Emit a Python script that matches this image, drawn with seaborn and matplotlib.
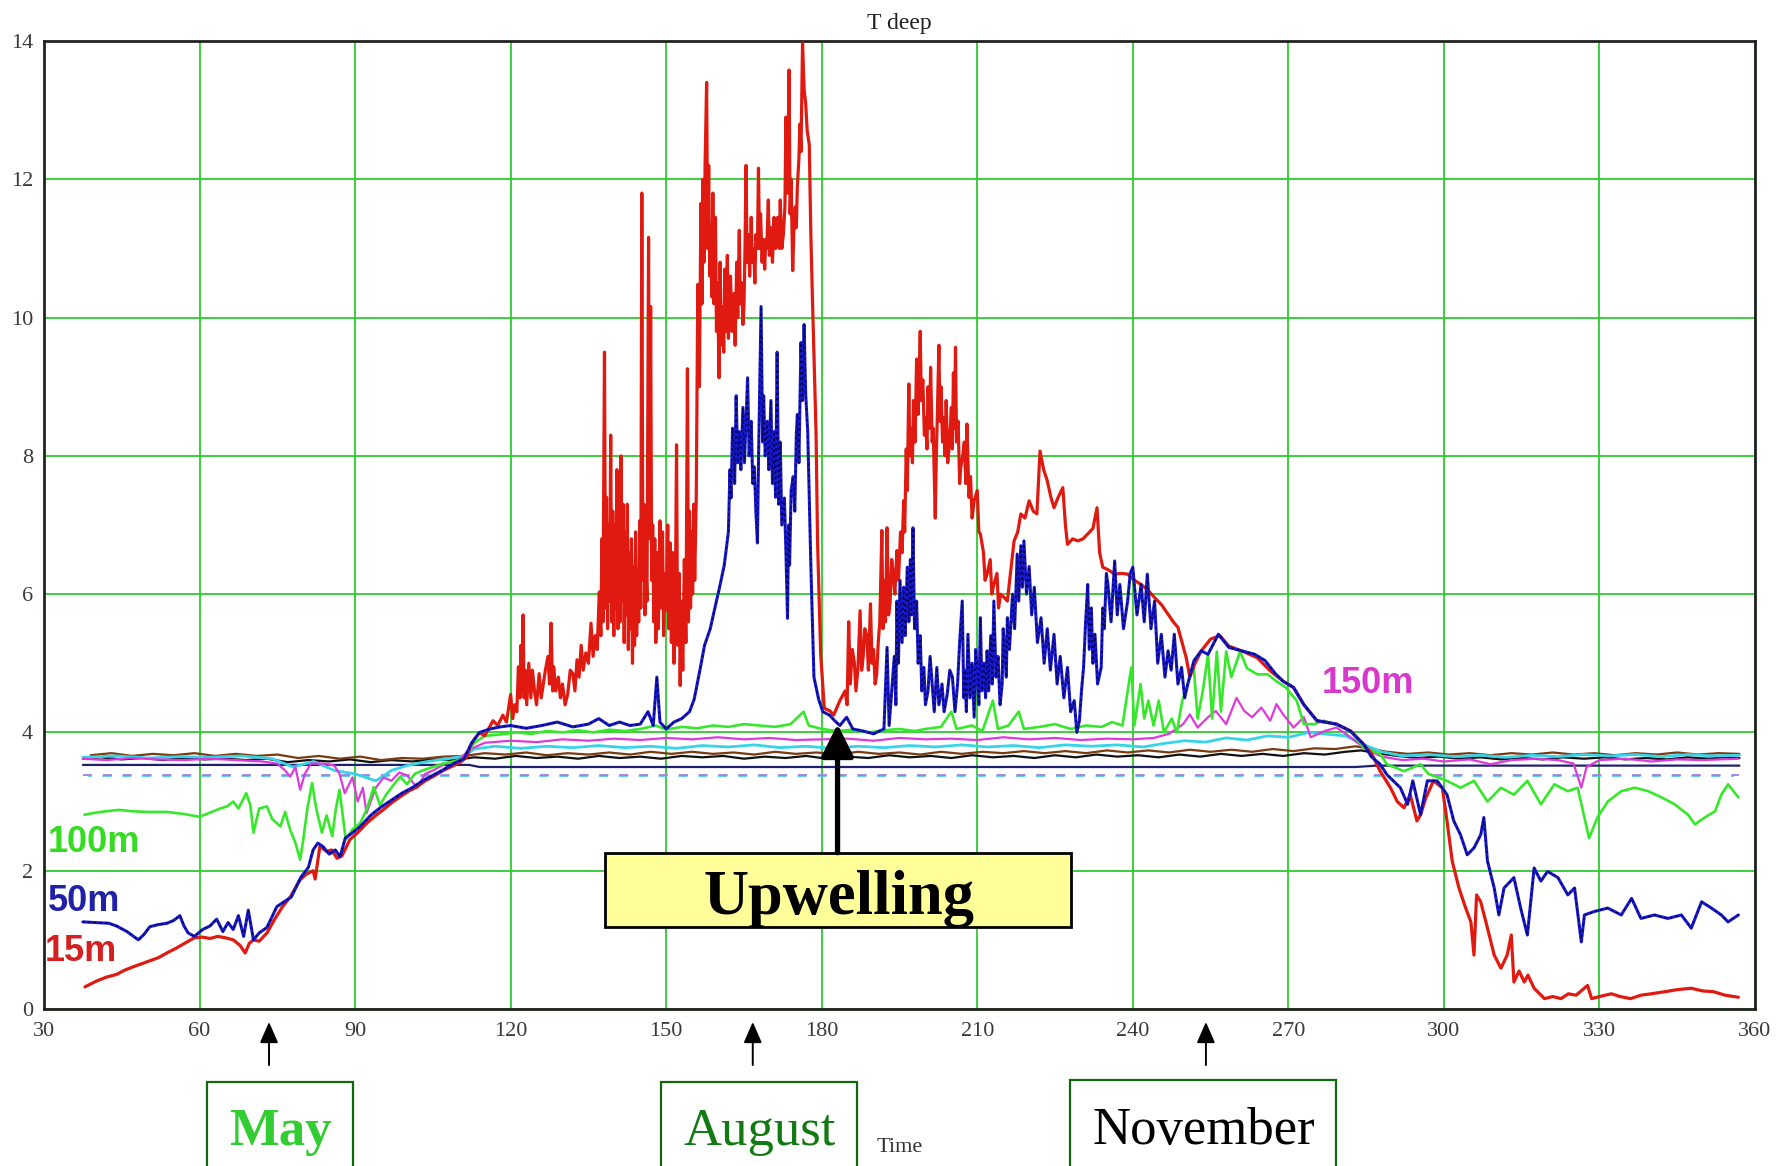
import matplotlib
matplotlib.use("Agg")
import matplotlib.pyplot as plt
import pandas as pd
import seaborn as sns
from matplotlib.patches import Rectangle

# ---------------------------------------------------------------------------
# Temperature records (day of year, degC) for each mooring depth
# ---------------------------------------------------------------------------
T15 = [
    (37.9, 0.32), (40, 0.40), (42, 0.46), (44, 0.50), (45.5, 0.56), (47.2, 0.61), (49, 0.66),
    (50.5, 0.70), (52, 0.74), (53.7, 0.81), (55.5, 0.88), (57.6, 0.97), (59, 1.03), (60.5, 1.04),
    (62, 1.02), (63.5, 1.05), (65, 1.03), (66.5, 1.00), (67.8, 0.92), (68.8, 0.81), (69.6, 0.95),
    (70.4, 1.00), (71.5, 0.98), (73, 1.10), (74.5, 1.30), (76, 1.48), (77.5, 1.62), (79.4, 1.87),
    (80.6, 1.95), (81.9, 2.00), (82.3, 1.88), (83.2, 2.35), (84.5, 2.28), (85.5, 2.30), (86.5, 2.18),
    (87.5, 2.22), (89, 2.45), (90.5, 2.55), (92.3, 2.69), (94, 2.80), (95.4, 2.88), (97, 2.98),
    (98.7, 3.07), (100.3, 3.15), (101.9, 3.21), (103.5, 3.30), (105, 3.36), (107, 3.45), (109, 3.52),
    (110.5, 3.58), (111.6, 3.65), (112.3, 3.82), (113, 3.90), (114, 4.00), (115, 3.95), (116.6, 4.17),
    (117.5, 4.10), (118.5, 4.25), (119.2, 4.15),
    (120, 4.55), (120.4, 4.2), (120.8, 4.40), (121.2, 4.3), (121.5, 4.95), (121.8, 4.5), (122, 5.26),
    (122.2, 4.6), (122.4, 5.70), (122.6, 4.5), (122.8, 4.90), (123.1, 4.4), (123.5, 5.00),
    (123.9, 4.5), (124.2, 4.9), (124.6, 4.60), (125.0, 4.4), (125.5, 4.85), (125.9, 4.5),
    (126.3, 4.70), (126.7, 4.9), (127.2, 5.10), (127.5, 4.7), (127.8, 5.58), (128.1, 4.6),
    (128.3, 4.95), (128.7, 4.6), (129.2, 4.80), (129.6, 4.5), (130.0, 4.70), (130.5, 4.4),
    (131, 4.55), (131.5, 4.9), (132, 4.85), (132.4, 4.6), (132.8, 5.05), (133.2, 4.8), (133.6, 5.26),
    (134.0, 4.9), (134.5, 5.15), (135.0, 5.0), (135.5, 5.58), (135.9, 5.1), (136.3, 5.40),
    (136.7, 5.2),
    (137.1, 6.03), (137.4, 5.4), (137.6, 6.8), (137.8, 5.6), (138.1, 9.5), (138.3, 5.8), (138.5, 7.4),
    (138.7, 5.5), (138.9, 7.0), (139.1, 5.9), (139.3, 8.3), (139.5, 5.6), (139.7, 7.2), (139.9, 5.4),
    (140.1, 7.0), (140.3, 5.8), (140.5, 7.8), (140.7, 5.5), (140.9, 6.8), (141.1, 5.6), (141.3, 8.0),
    (141.5, 5.9), (141.7, 7.3), (141.9, 5.3), (142.1, 6.9), (142.3, 5.7), (142.5, 7.3), (142.7, 5.2),
    (142.9, 6.6), (143.1, 5.5), (143.3, 6.8), (143.5, 5.0), (143.7, 6.4), (143.9, 5.26), (144.1, 6.9),
    (144.3, 5.4), (144.5, 6.3), (144.7, 5.6), (144.9, 7.06), (145.1, 5.8), (145.3, 11.8),
    (145.5, 6.2), (145.7, 7.3), (145.9, 5.7), (146.1, 6.4), (146.3, 5.9), (146.6, 11.16),
    (146.8, 6.8), (147.0, 10.16), (147.2, 6.2), (147.4, 7.0), (147.6, 5.6), (147.8, 6.8),
    (148.0, 5.3), (148.3, 6.6), (148.5, 5.5), (148.8, 7.06), (149.0, 5.8), (149.3, 6.9),
    (149.5, 5.4), (149.8, 6.3), (150.0, 5.77), (150.3, 7.0), (150.5, 5.5), (150.8, 6.74),
    (151.0, 5.3), (151.3, 6.6), (151.5, 5.0), (151.8, 6.2), (152.0, 8.16), (152.2, 5.26),
    (152.5, 6.3), (152.7, 4.68), (152.9, 5.9), (153.2, 4.9), (153.5, 6.5), (153.8, 5.3),
    (154.1, 9.26), (154.3, 5.6), (154.5, 7.2), (154.7, 5.8), (154.9, 6.9), (155.1, 6.0),
    (155.3, 7.3), (155.5, 6.2), (155.8, 7.4), (156.1, 10.48),
    (156.4, 9.0), (156.7, 11.65), (156.9, 10.2), (157.1, 12.0), (157.3, 10.8), (157.5, 12.2),
    (157.8, 13.4), (158.0, 11.0), (158.2, 12.2), (158.4, 10.6), (158.6, 11.26), (158.8, 10.3),
    (159.0, 11.8), (159.2, 10.2), (159.5, 11.45), (159.7, 9.8), (159.9, 10.5), (160.2, 9.13),
    (160.4, 10.8), (160.6, 9.6), (160.9, 10.16), (161.1, 9.5), (161.3, 10.7), (161.5, 9.8),
    (161.8, 10.9), (162.0, 9.7), (162.4, 10.6), (162.7, 9.8), (163.1, 10.35), (163.3, 9.6),
    (163.6, 10.8), (163.8, 10.0), (164.1, 11.26), (164.3, 10.2), (164.6, 10.5), (164.8, 9.9),
    (165.0, 10.16), (165.2, 11.0), (165.4, 12.2), (165.6, 10.8), (165.9, 11.2), (166.1, 10.6),
    (166.4, 11.45), (166.6, 10.8), (166.9, 11.0), (167.1, 10.5), (167.3, 11.2), (167.6, 11.0),
    (167.8, 12.16), (168.0, 11.0), (168.2, 11.5), (168.5, 10.8), (168.7, 11.13), (169.0, 10.7),
    (169.2, 11.13), (169.4, 11.0), (169.7, 11.7), (169.9, 10.9), (170.2, 11.3), (170.5, 10.8),
    (170.8, 11.45), (171.1, 11.0), (171.5, 11.45), (171.8, 11.0), (172.0, 11.7), (172.3, 11.0),
    (172.6, 11.2), (172.9, 11.6), (173.1, 12.9), (173.4, 11.8), (173.7, 13.58), (173.9, 11.5),
    (174.1, 12.0), (174.4, 10.68), (174.6, 11.2), (174.9, 11.6), (175.1, 11.3), (175.3, 11.9),
    (175.6, 12.3), (175.8, 12.8), (176.0, 12.4), (176.3, 13.97), (176.6, 13.3), (176.9, 13.1),
    (177.2, 12.7), (177.6, 12.5), (177.9, 11.2), (178.2, 10.3), (178.9, 8.35), (179.2, 6.74),
    (179.8, 5.13), (180.5, 4.35), (181.6, 4.31), (182.3, 4.25), (183.5, 4.46),
    (184.5, 4.6), (184.9, 4.4), (185.2, 5.6), (185.5, 4.7), (185.9, 5.2), (186.3, 5.0), (186.6, 4.6),
    (187.0, 4.94), (187.4, 5.76), (187.7, 4.9), (188.0, 5.1), (188.3, 5.5), (188.7, 5.4),
    (189.0, 4.9), (189.4, 5.86), (189.7, 5.0), (190.0, 5.2), (190.3, 4.7), (190.6, 4.84),
    (190.9, 5.3), (191.2, 5.6), (191.6, 6.92), (191.8, 5.5), (192.1, 6.2), (192.3, 5.6),
    (192.6, 6.96), (192.9, 5.7), (193.2, 5.9), (193.5, 6.5), (193.8, 6.3), (194.1, 6.0),
    (194.5, 6.63), (194.8, 6.2), (195.2, 6.9), (195.5, 6.6), (195.8, 7.35), (196.0, 6.9),
    (196.3, 8.1), (196.5, 7.5), (196.8, 9.04), (197.0, 8.0), (197.2, 8.4), (197.5, 7.9), (197.7, 8.8),
    (198.0, 8.2), (198.3, 9.4), (198.6, 8.6), (199.0, 9.8), (199.2, 8.8), (199.5, 9.1), (199.8, 8.3),
    (200.0, 8.55), (200.3, 8.1), (200.5, 9.0), (200.8, 8.4), (201.0, 9.28), (201.3, 8.2),
    (201.5, 8.4), (201.9, 7.1), (202.1, 8.0), (202.3, 8.6), (202.6, 9.6), (202.8, 8.5), (203.0, 9.0),
    (203.3, 8.2), (203.5, 8.55), (203.8, 8.0), (204.0, 8.8), (204.3, 7.9), (204.5, 8.07),
    (204.8, 8.4), (205.0, 8.7), (205.2, 8.1), (205.4, 9.2), (205.6, 8.4), (205.8, 9.57),
    (206.0, 8.2), (206.3, 8.5), (206.6, 7.6), (206.8, 7.83), (207.2, 8.0), (207.5, 8.2),
    (207.8, 7.6), (208.0, 8.46), (208.4, 7.4), (208.7, 7.7), (209.0, 7.1), (209.4, 7.35),
    (210.0, 7.50), (210.3, 6.9), (210.6, 6.87), (211.2, 6.60), (211.5, 6.2), (211.9, 6.29),
    (212.5, 6.50), (212.8, 6.0), (213.2, 6.14), (213.8, 6.30), (214.1, 5.8), (214.5, 6.00),
    (215.2, 5.95), (215.8, 5.90), (216.4, 6.30), (217.1, 6.77), (217.8, 6.90), (218.4, 7.16),
    (219.2, 7.10), (220.0, 7.35), (220.8, 7.20), (221.5, 7.16), (222.1, 8.07), (222.8, 7.80),
    (223.5, 7.64), (224.2, 7.40), (224.8, 7.25), (225.6, 7.40), (226.5, 7.54), (227.0, 7.00),
    (227.4, 6.72), (228.4, 6.80), (229.4, 6.77), (230.4, 6.80), (231.3, 6.87), (232.3, 6.95),
    (233.1, 7.25), (233.6, 6.60), (234.2, 6.39), (235.3, 6.35), (236.5, 6.29), (237.8, 6.30),
    (239.0, 6.29), (240.3, 6.20), (241.6, 6.14), (243.0, 6.05), (244.2, 5.95), (245.5, 5.85),
    (246.8, 5.71), (247.8, 5.60), (248.7, 5.52), (249.5, 5.30), (250.3, 5.08), (251.0, 4.80),
    (252.0, 5.00), (253.2, 5.18), (255, 5.35), (256.8, 5.40), (258.5, 5.25), (261.3, 5.17),
    (264, 5.08), (266.5, 4.89), (269, 4.74), (271, 4.65), (273, 4.40), (275.5, 4.17), (279.3, 4.12),
    (282, 4.02), (284.5, 3.83), (286, 3.70), (287.7, 3.44), (289.7, 3.20), (291.0, 3.00),
    (292.3, 2.91), (293.5, 3.10), (294.8, 2.72), (295.5, 2.81), (296.5, 3.05), (298.0, 3.30),
    (299.7, 3.20), (300.6, 2.72), (301.6, 2.14), (302.9, 1.75), (304.2, 1.46), (305.2, 1.26),
    (305.8, 0.78), (306.3, 1.65), (307.1, 1.55), (308.4, 1.17), (309.7, 0.78), (311.0, 0.59),
    (312.2, 0.78), (313.0, 1.07), (313.5, 0.39), (314.5, 0.55), (315.5, 0.39), (316.2, 0.49),
    (317.4, 0.30), (319.4, 0.15), (321.0, 0.18), (322.6, 0.15), (324.0, 0.22), (325.5, 0.20),
    (327.7, 0.34), (328.5, 0.15), (330.0, 0.18), (332.3, 0.22), (334.0, 0.18), (336.0, 0.15),
    (338.0, 0.20), (340.0, 0.22), (342.6, 0.25), (345.0, 0.28), (347.7, 0.30), (350.0, 0.26),
    (352.0, 0.25), (354.2, 0.20), (356.8, 0.17),
]

T50 = [
    (37.5, 1.26), (40, 1.25), (42.5, 1.24), (44, 1.20), (46, 1.12), (48.2, 1.00), (49.3, 1.08),
    (50.4, 1.19), (52, 1.22), (53.7, 1.24), (55, 1.28), (56.2, 1.35), (57.0, 1.20), (57.8, 1.10),
    (59, 1.05), (60.6, 1.15), (62, 1.20), (63.3, 1.30), (64.5, 1.12), (65.5, 1.25), (66.5, 1.15),
    (67.5, 1.35), (68.5, 1.05), (69.4, 1.43), (70.4, 1.00), (71.5, 1.10), (73, 1.18), (74.9, 1.48),
    (76.3, 1.55), (77.7, 1.62), (79.5, 1.90), (81, 2.05), (81.9, 2.30), (82.8, 2.40), (83.8, 2.35),
    (85, 2.24), (86.2, 2.30), (87.1, 2.20), (88.1, 2.47), (89.5, 2.55), (91, 2.64), (93, 2.80),
    (95, 2.92), (97, 3.02), (99, 3.12), (101, 3.20), (103, 3.30), (105, 3.38), (107, 3.46),
    (109, 3.55), (111, 3.62), (112.5, 3.85), (114, 4.00), (116, 4.05), (118, 4.08), (120, 4.10),
    (123, 4.06), (126, 4.10), (129, 4.15), (132, 4.08), (135, 4.12), (137, 4.20), (139, 4.10),
    (141, 4.15), (143, 4.10), (145, 4.12), (146.5, 4.30), (147.5, 4.10), (148.2, 4.80), (148.8, 4.15),
    (150, 4.05), (151.5, 4.15), (153, 4.20), (154.5, 4.30), (155.4, 4.48), (156.5, 4.90),
    (157.4, 5.26), (158.5, 5.50), (159.3, 5.77), (160.3, 6.10), (161.2, 6.42),
    (162.0, 6.9), (162.3, 7.8), (162.5, 7.39), (162.8, 8.4), (163.0, 8.2), (163.2, 7.6),
    (163.5, 8.87), (163.8, 7.9), (164.1, 8.35), (164.4, 7.8), (164.8, 8.7), (165.1, 7.9),
    (165.4, 8.5), (165.7, 9.13), (166.0, 8.0), (166.4, 8.5), (166.7, 7.6), (167.0, 7.84),
    (167.3, 7.2), (167.6, 6.74), (167.8, 7.9), (168.0, 8.8), (168.3, 10.16), (168.6, 8.2),
    (168.8, 8.87), (169.1, 8.0), (169.5, 8.5), (169.8, 7.8), (170.2, 8.8), (170.5, 7.6),
    (170.8, 8.35), (171.1, 7.4), (171.4, 9.5), (171.7, 7.3), (172.0, 8.2), (172.3, 7.0),
    (172.8, 7.39), (173.1, 6.6), (173.4, 5.65), (173.6, 7.0), (173.8, 6.42), (174.1, 7.5),
    (174.5, 7.7), (174.8, 7.2), (175.1, 8.3), (175.3, 8.6), (175.6, 7.9), (176.0, 9.64),
    (176.3, 8.8), (176.6, 9.9), (176.9, 8.9), (177.3, 8.35), (177.6, 7.4), (177.9, 6.42),
    (178.5, 4.80), (179.4, 4.48), (180.2, 4.30), (181.5, 4.25), (182.5, 4.17), (183.5, 4.10),
    (184.8, 4.22), (186, 4.05), (188, 4.02), (190, 3.98), (192, 4.05), (192.6, 5.23),
    (193.0, 4.10), (193.5, 4.6), (194.0, 5.10), (194.3, 4.4), (194.5, 5.90), (194.8, 5.0),
    (195.1, 6.2), (195.5, 5.3), (195.8, 6.1), (196.1, 5.4), (196.5, 6.39), (196.8, 5.6),
    (197.1, 6.5), (197.3, 5.7), (197.6, 6.96), (197.9, 5.5), (198.3, 5.90), (198.6, 5.0),
    (199.0, 5.40), (199.3, 4.6), (199.7, 4.94), (200.0, 4.4), (200.5, 4.60), (200.9, 5.1),
    (201.3, 4.70), (201.7, 4.3), (202.2, 4.94), (202.6, 4.4), (203.2, 4.70), (203.6, 4.3),
    (204.2, 4.55), (204.7, 4.9), (205.2, 4.80), (205.7, 4.3), (206.2, 4.70), (206.6, 5.3),
    (207.1, 5.90), (207.4, 4.5), (207.6, 4.90), (207.9, 4.3), (208.2, 5.42), (208.6, 4.5),
    (209.0, 5.0), (209.4, 4.22), (209.7, 5.2), (210.0, 4.90), (210.3, 4.4), (210.6, 5.66),
    (210.9, 4.6), (211.3, 5.00), (211.6, 4.5), (211.9, 5.18), (212.2, 4.6), (212.6, 5.40),
    (212.9, 4.7), (213.2, 5.90), (213.6, 4.8), (214.0, 5.10), (214.4, 4.4), (214.8, 4.70),
    (215.0, 5.5), (215.3, 5.20), (215.6, 4.8), (215.8, 5.66), (216.2, 5.2), (216.8, 6.00),
    (217.2, 5.5), (217.7, 6.58), (218.0, 5.9), (218.4, 6.70), (218.7, 6.1), (219.0, 6.77),
    (219.5, 6.0), (220.0, 6.40), (220.5, 5.7), (221.0, 6.10), (221.6, 5.3), (222.3, 5.66),
    (222.9, 5.0), (223.5, 5.50), (224.1, 4.9), (224.8, 5.42), (225.4, 4.7), (226.0, 5.10),
    (226.7, 4.5), (227.4, 4.94), (228.0, 4.3), (228.7, 4.46), (229.2, 4.0), (229.7, 4.17),
    (230.1, 4.6), (230.5, 4.94), (230.9, 5.6), (231.3, 6.14), (231.6, 5.2), (232.0, 5.80),
    (232.3, 5.0), (232.7, 5.42), (233.2, 4.7), (233.9, 4.94), (234.2, 5.8), (234.5, 5.50),
    (234.9, 6.3), (235.2, 6.14), (235.8, 5.6), (236.5, 6.48), (237.0, 5.7), (237.5, 6.14),
    (238.2, 5.5), (239.0, 5.90), (239.5, 6.3), (240.0, 6.39), (240.8, 5.7), (241.6, 6.14),
    (242.2, 5.6), (242.8, 6.29), (243.5, 5.5), (244.2, 5.90), (244.8, 5.0), (245.5, 5.42),
    (246.2, 4.8), (246.8, 5.18), (247.4, 4.9), (248.0, 5.42), (248.7, 4.7), (249.4, 4.94),
    (250.0, 4.5), (250.6, 4.70), (251.8, 5.04), (253.2, 5.18), (254.5, 5.13),
    (256.5, 5.42), (258.5, 5.23), (261.0, 5.18), (263.5, 5.13), (265.5, 5.04), (267.5, 4.85),
    (269.0, 4.74), (271.0, 4.65), (273.0, 4.40), (275.5, 4.17), (279.3, 4.12), (282.0, 4.02),
    (284.5, 3.83), (286.0, 3.65), (287.7, 3.54), (289.0, 3.39), (291.6, 3.20), (293.0, 2.96),
    (294.0, 3.30), (295.5, 2.81), (296.8, 3.30), (298.7, 3.30), (300.6, 3.10), (301.9, 2.72),
    (303.2, 2.52), (304.5, 2.23), (305.8, 2.33), (307.1, 2.52), (307.7, 2.77), (308.4, 2.14),
    (309.7, 1.75), (310.6, 1.36), (311.6, 1.75), (313.5, 1.90), (314.8, 1.46), (316.1, 1.07),
    (317.4, 2.04), (318.7, 1.85), (320.0, 1.99), (322.0, 1.90), (323.9, 1.65), (325.2, 1.75),
    (326.5, 0.97), (327.1, 1.36), (329.0, 1.41), (331.6, 1.46), (334.2, 1.36), (336.2, 1.60),
    (338.0, 1.31), (340.6, 1.36), (343.2, 1.31), (345.8, 1.36), (347.7, 1.17), (349.7, 1.55),
    (351.6, 1.46), (353.5, 1.36), (354.8, 1.26), (356.8, 1.36),
]

T100 = [
    (37.8, 2.81), (40, 2.84), (42, 2.86), (44.5, 2.88), (47, 2.86), (50, 2.85), (53.7, 2.85),
    (57, 2.82), (60, 2.78), (62, 2.84), (64, 2.90), (65.3, 2.93), (66.5, 3.00), (67.5, 2.90),
    (69, 3.12), (69.8, 2.95), (70.4, 2.55), (71.5, 2.90), (73, 2.93), (74, 2.75), (75.6, 2.64),
    (76.5, 2.85), (77.5, 2.59), (78.5, 2.40), (79.4, 2.16), (80, 2.45), (80.8, 2.90), (81.7, 3.27),
    (82.5, 2.90), (83.6, 2.55), (84.5, 2.80), (85.6, 2.50), (86.3, 2.90), (87.0, 3.17), (88.2, 2.45),
    (89.5, 2.60), (91.0, 2.69), (92.3, 2.90), (93.6, 3.21), (94.8, 2.95), (96, 3.10), (97.5, 3.25),
    (98.7, 3.36), (100, 3.25), (101.5, 3.40), (103, 3.45), (105, 3.50), (107, 3.55), (109, 3.58),
    (111, 3.62), (113, 3.85), (115, 3.95), (118, 3.97), (121, 4.00), (124, 3.98), (127, 4.02),
    (130, 4.00), (133, 4.03), (136, 4.00), (139, 4.04), (142, 4.02), (145, 4.05), (148, 4.10),
    (150, 4.04), (153, 4.08), (156, 4.06), (159, 4.10), (162, 4.08), (165, 4.12), (168, 4.10),
    (171, 4.08), (174, 4.12), (176.5, 4.30), (177.5, 4.10), (180, 4.05), (183, 4.02), (186, 4.04),
    (189, 4.00), (192, 4.03), (195, 4.05), (198, 4.02), (200, 4.05), (203, 4.08), (205, 4.30),
    (206, 4.05), (209, 4.10), (211, 4.02), (213, 4.46), (214, 4.05), (216, 4.10), (218, 4.30),
    (219, 4.05), (222, 4.08), (225, 4.12), (228, 4.05), (231, 4.10), (234, 4.08), (236, 4.15),
    (238, 4.10), (239.7, 4.94), (240.3, 4.10), (241.5, 4.70), (242.2, 4.20), (243.0, 4.46),
    (244.0, 4.10), (245.0, 4.46), (246.0, 4.00), (247.5, 4.20), (248.5, 4.00), (249.5, 4.45),
    (250.6, 4.70), (251.7, 5.00), (252.5, 4.20), (253.5, 4.60), (254.5, 5.13), (255.3, 4.20),
    (256.2, 5.17), (257.0, 4.30), (258.0, 5.17), (259.0, 4.80), (260.7, 5.17), (262.0, 4.93),
    (264.0, 4.84), (266.0, 4.84), (267.7, 4.74), (269.5, 4.65), (271.6, 4.46), (273.0, 4.12),
    (275.0, 4.12), (276.8, 4.17), (279.0, 4.12), (282.0, 4.02), (284.5, 3.78), (287.7, 3.69),
    (289.0, 3.54), (292.3, 3.44), (295.5, 3.54), (297.0, 3.40), (300.6, 3.30), (303.2, 3.20),
    (305.8, 3.30), (308.4, 3.00), (311.0, 3.20), (313.5, 3.10), (316.1, 3.30), (318.7, 2.96),
    (321.3, 3.25), (323.9, 3.15), (325.8, 3.20), (327.1, 2.77), (328.0, 2.47), (329.6, 2.77),
    (331.6, 3.00), (334.2, 3.15), (336.8, 3.20), (339.4, 3.15), (342.0, 3.06), (344.5, 2.96),
    (347.1, 2.81), (348.4, 2.67), (350.3, 2.77), (352.3, 2.86), (353.5, 3.10), (354.8, 3.25),
    (356.8, 3.06),
]

T150 = [
    (37.5, 3.62), (42, 3.60), (47, 3.63), (52, 3.61), (57, 3.60), (62, 3.62), (67, 3.60), (72, 3.58),
    (75, 3.55), (76.5, 3.45), (77.5, 3.36), (78.5, 3.50), (79.4, 3.17), (80.3, 3.40), (81.5, 3.55),
    (84, 3.55), (86, 3.52), (87, 3.40), (88, 3.12), (89.5, 3.35), (90.5, 3.00), (91.5, 3.20),
    (92.2, 2.83), (93, 3.00), (94, 3.20), (95.5, 3.35), (97, 3.30), (98.5, 3.42), (100, 3.38),
    (102, 3.20), (103.5, 3.40), (105, 3.45), (107.5, 3.55), (110, 3.60), (112, 3.75), (115, 3.85),
    (120, 3.88), (125, 3.86), (130, 3.90), (135, 3.88), (140, 3.91), (145, 3.89), (150, 3.92),
    (155, 3.90), (160, 3.93), (165, 3.90), (170, 3.92), (175, 3.89), (180, 3.90), (185, 3.91),
    (190, 3.88), (195, 3.92), (200, 3.90), (205, 3.91), (210, 3.89), (215, 3.93), (220, 3.90),
    (225, 3.92), (230, 3.89), (235, 3.91), (240, 3.90), (244, 3.92), (247, 3.98), (249.7, 4.12),
    (251, 4.26), (252.5, 4.07), (254.5, 4.22), (256, 4.31), (258, 4.12), (260, 4.50), (261.5, 4.31),
    (263, 4.22), (264.8, 4.36), (266.5, 4.17), (267.7, 4.41), (269, 4.26), (271, 4.07), (273, 4.22),
    (274.3, 3.93), (277, 4.02), (279.3, 4.07), (282, 3.93), (284.5, 3.78), (288, 3.65), (292, 3.60),
    (296, 3.62), (300, 3.58), (305, 3.61), (309, 3.54), (313, 3.60), (318, 3.62), (322, 3.60),
    (325, 3.55), (326.5, 3.20), (327.5, 3.50), (330, 3.60), (335, 3.62), (340, 3.58), (345, 3.61),
    (350, 3.60), (356.8, 3.62),
]

T200 = [
    (37.5, 3.64), (44, 3.66), (50, 3.63), (56, 3.65), (62, 3.64), (68, 3.66), (74, 3.62), (78, 3.50),
    (82, 3.58), (86, 3.45), (90, 3.40), (94, 3.30), (97, 3.45), (100, 3.52), (104, 3.58), (108, 3.62),
    (111, 3.66), (113, 3.76), (117, 3.80), (122, 3.77), (127, 3.80), (132, 3.78), (137, 3.81),
    (142, 3.78), (147, 3.80), (152, 3.77), (157, 3.81), (162, 3.79), (167, 3.82), (172, 3.78),
    (177, 3.80), (182, 3.77), (187, 3.80), (192, 3.78), (197, 3.81), (202, 3.79), (207, 3.82),
    (212, 3.79), (217, 3.81), (222, 3.78), (227, 3.82), (232, 3.80), (237, 3.82), (242, 3.79),
    (246, 3.84), (250, 3.88), (254, 3.86), (258, 3.92), (262, 3.89), (266, 3.95), (270, 3.93),
    (274, 4.00), (278, 3.97), (281, 3.95), (284, 3.84), (288, 3.72), (292, 3.66), (297, 3.68),
    (302, 3.65), (307, 3.67), (312, 3.64), (317, 3.67), (322, 3.65), (327, 3.68), (332, 3.66),
    (337, 3.68), (342, 3.65), (347, 3.68), (352, 3.66), (357, 3.67),
]

T250 = [
    (37.5, 3.62), (41, 3.64), (45, 3.61), (49, 3.63), (53, 3.60), (57, 3.63), (61, 3.61), (65, 3.62),
    (69, 3.60), (73, 3.62), (77, 3.57), (81, 3.60), (85, 3.58), (89, 3.61), (93, 3.57), (97, 3.60),
    (101, 3.58), (105, 3.61), (109, 3.60), (113, 3.64), (117, 3.62), (121, 3.66), (125, 3.63),
    (129, 3.65), (133, 3.62), (137, 3.66), (141, 3.63), (145, 3.65), (149, 3.62), (153, 3.66),
    (157, 3.64), (161, 3.66), (165, 3.62), (169, 3.65), (173, 3.63), (177, 3.66), (181, 3.62),
    (185, 3.65), (189, 3.63), (193, 3.67), (197, 3.64), (201, 3.66), (205, 3.63), (209, 3.67),
    (213, 3.64), (217, 3.66), (221, 3.63), (225, 3.67), (229, 3.64), (233, 3.68), (237, 3.65),
    (241, 3.67), (245, 3.64), (249, 3.68), (253, 3.65), (257, 3.69), (261, 3.66), (265, 3.69),
    (269, 3.66), (273, 3.70), (277, 3.68), (281, 3.72), (284, 3.74), (287, 3.70), (291, 3.66),
    (295, 3.63), (299, 3.65), (303, 3.62), (307, 3.64), (311, 3.61), (315, 3.63), (319, 3.61),
    (323, 3.64), (327, 3.62), (331, 3.64), (335, 3.61), (339, 3.63), (343, 3.61), (347, 3.64),
    (351, 3.62), (354, 3.64), (357, 3.63),
]

T300 = [
    (39, 3.67), (43, 3.70), (47, 3.66), (51, 3.69), (55, 3.67), (59, 3.70), (63, 3.66), (67, 3.69),
    (71, 3.66), (75, 3.68), (79, 3.63), (83, 3.66), (87, 3.62), (91, 3.65), (95, 3.60), (99, 3.63),
    (103, 3.62), (107, 3.65), (111, 3.66), (115, 3.70), (119, 3.68), (123, 3.71), (127, 3.67),
    (131, 3.70), (135, 3.68), (139, 3.71), (143, 3.68), (147, 3.72), (151, 3.69), (155, 3.72),
    (159, 3.69), (163, 3.71), (167, 3.68), (171, 3.72), (175, 3.69), (179, 3.71), (183, 3.68),
    (187, 3.72), (191, 3.69), (195, 3.71), (199, 3.68), (203, 3.72), (207, 3.69), (211, 3.72),
    (215, 3.70), (219, 3.73), (223, 3.70), (227, 3.73), (231, 3.70), (235, 3.74), (239, 3.71),
    (243, 3.74), (247, 3.71), (251, 3.75), (255, 3.72), (259, 3.75), (263, 3.72), (267, 3.76),
    (271, 3.73), (275, 3.77), (279, 3.76), (283, 3.80), (286, 3.76), (289, 3.72), (293, 3.69),
    (297, 3.71), (301, 3.68), (305, 3.70), (309, 3.67), (313, 3.70), (317, 3.68), (321, 3.71),
    (325, 3.68), (329, 3.70), (333, 3.67), (337, 3.70), (341, 3.68), (345, 3.71), (349, 3.68),
    (353, 3.70), (357, 3.69),
]

T400 = [(37.5, 3.53), (112, 3.53), (114, 3.50), (283, 3.50), (287, 3.52), (357, 3.52)]
T500 = [(37.5, 3.38), (357, 3.38)]
T600 = [(38.5, 3.37), (356, 3.37)]

X_TICKS = list(range(30, 361, 30))
Y_TICKS = list(range(0, 15, 2))

DEPTH_LABELS = [("100m", 30.8, 2.41, "#35dc22"), ("50m", 30.8, 1.56, "#2020a8"),
                ("15m", 30.2, 0.83, "#d42020"), ("150m", 276.4, 4.71, "#d838cc")]
MONTHS = [("May", 73.4), ("August", 166.7), ("November", 254.1)]

# ---------------------------------------------------------------------------
sns.set_theme(style="white")
plt.rcParams["font.family"] = ["Liberation Serif", "DejaVu Serif"]

W, H = 1779, 1166
fig = plt.figure(figsize=(W / 100, H / 100), dpi=100)
fig.patch.set_facecolor("white")
ax = fig.add_axes([44 / W, 1 - 1009 / H, (1755 - 44) / W, (1009 - 41) / H])


def draw(series, color, lw, z, **kw):
    frame = pd.DataFrame(series, columns=["day", "temp"])
    sns.lineplot(data=frame, x="day", y="temp", ax=ax, color=color, lw=lw,
                 estimator=None, sort=False, legend=False, zorder=z, **kw)


draw(T600, "#55c8dd", 1.3, 3, linestyle=(3, (5, 6)))
draw(T500, "#a080e0", 1.3, 3, linestyle=(0, (5, 6)))
draw(T400, "#202070", 1.6, 3)
draw(T250, "#111111", 1.6, 3)
draw(T300, "#7a3a12", 1.6, 3)
draw(T200, "#36d4e8", 2.0, 4)
draw(T150, "#dd3add", 1.6, 5)
draw(T100, "#36e82a", 1.9, 6)
draw(T15, "#e01a10", 2.3, 7)
draw(T50, "#1818cc", 2.2, 8)
draw(T50, "#00004a", 1.0, 8.5, linestyle=(0, (1.5, 2.5)))

ax.set_xlim(30, 360)
ax.set_ylim(0, 14)
ax.set_xticks(X_TICKS)
ax.set_yticks(Y_TICKS)
ax.set_ylabel("")
ax.grid(True, color="#2ecc2e", lw=1.3)
ax.set_axisbelow(True)
for sp in ax.spines.values():
    sp.set_visible(True)
    sp.set_color("#222222")
    sp.set_linewidth(2.0)
ax.tick_params(axis="both", length=0, labelsize=16, labelcolor="#3a3a3a")
ax.tick_params(axis="x", pad=9)
ax.tick_params(axis="y", pad=8)

ax.set_title("T deep", fontsize=17, color="#222222", pad=9)
ax.set_xlabel("Time", fontsize=16, color="#333333")
ax.xaxis.set_label_coords(0.5, -0.1426)
ax.xaxis.label.set_va("center")

for text, x, y, col in DEPTH_LABELS:
    ax.text(x, y, text, color=col, fontsize=26, fontweight="bold",
            family="Liberation Sans", ha="left", va="center", zorder=12)

# Upwelling callout
ax.add_patch(Rectangle((138.2, 1.19), 89.9, 1.07, facecolor="#ffff99",
                       edgecolor="black", lw=2.0, zorder=10))
ax.text(183.4, 1.38, "Upwelling", fontsize=45, fontweight="bold",
        ha="center", va="baseline", color="black", zorder=11)
ax.annotate("", xy=(183.05, 4.12), xytext=(183.05, 2.26),
            arrowprops=dict(arrowstyle="-|>,head_length=0.9,head_width=0.45",
                            lw=3.8, color="black", shrinkA=0, shrinkB=0,
                            mutation_scale=22),
            zorder=12)

# Month markers below the time axis
for name, day in MONTHS:
    ax.annotate("", xy=(day, -0.0134), xytext=(day, -0.0579),
                xycoords=("data", "axes fraction"), textcoords=("data", "axes fraction"),
                arrowprops=dict(arrowstyle="-|>,head_length=0.8,head_width=0.35",
                                lw=1.4, color="black", shrinkA=0, shrinkB=0,
                                mutation_scale=16),
                annotation_clip=False)

boxes = [(207, 353, 1082), (661, 857, 1082), (1070, 1336, 1080)]
for x0, x1, ytop in boxes:
    fig.add_artist(Rectangle((x0 / W, (H - 1185) / H), (x1 - x0) / W, (1185 - ytop) / H,
                             transform=fig.transFigure, fill=False,
                             edgecolor="#0f6a0f", lw=1.6))

fig.text(280 / W, 1 - 1145 / H, "May", fontsize=38, fontweight="bold",
         color="#33cc33", ha="center", va="baseline")
fig.text(760 / W, 1 - 1145 / H, "August", fontsize=38, color="#127a12",
         ha="center", va="baseline")
fig.text(1204 / W, 1 - 1144 / H, "November", fontsize=38, color="black",
         ha="center", va="baseline")

fig.savefig("out.png", dpi=100, facecolor="white")
